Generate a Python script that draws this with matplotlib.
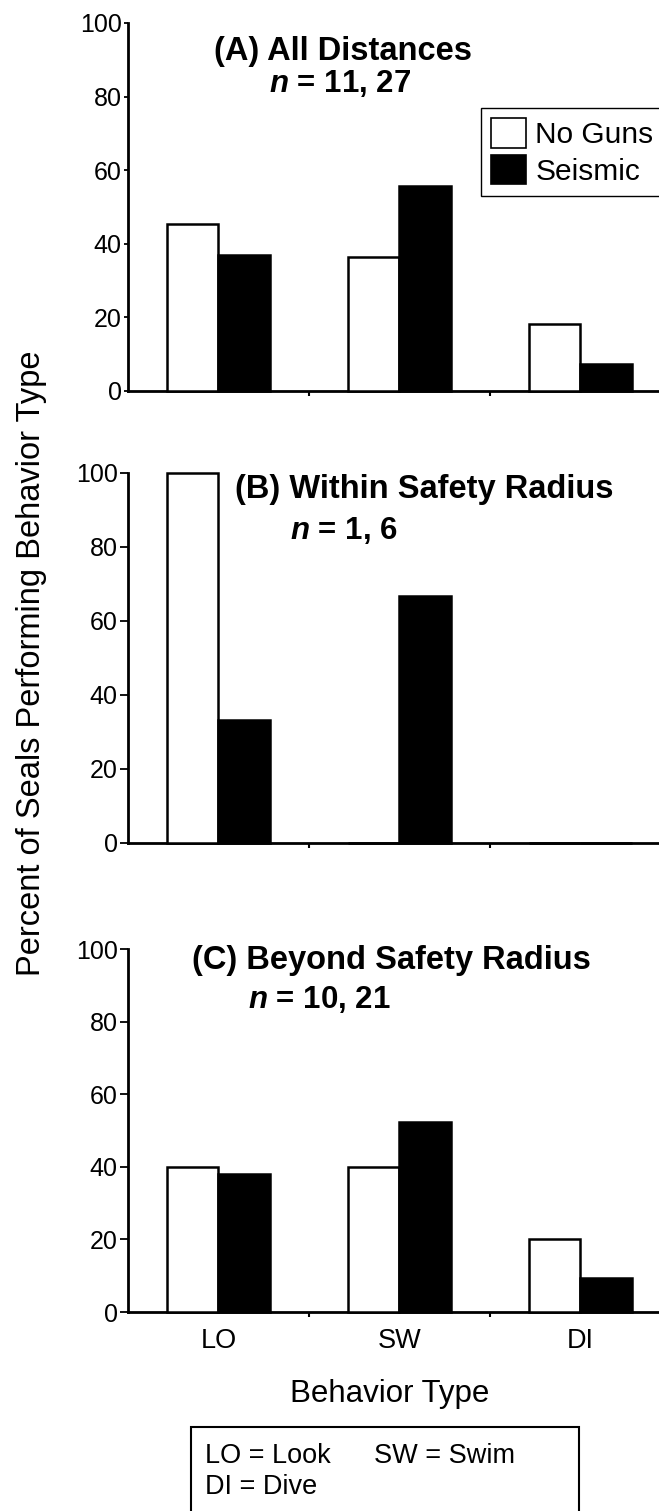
import numpy as np
import matplotlib
matplotlib.use('Agg')
import matplotlib.pyplot as plt
from matplotlib.patches import Patch, Rectangle

plt.rcParams['font.family'] = ['Liberation Sans', 'DejaVu Sans']
plt.rcParams['mathtext.fontset'] = 'custom'
plt.rcParams['mathtext.it'] = 'Liberation Sans:italic:bold'
plt.rcParams['mathtext.rm'] = 'Liberation Sans:bold'

behaviors = ['LO', 'SW', 'DI']
series_names = ['No Guns', 'Seismic']

panel_titles = ['(A) All Distances', '(B) Within Safety Radius', '(C) Beyond Safety Radius']
panel_n = ['11, 27', '1, 6', '10, 21']

no_guns_all = [45.5, 36.4, 18.2]
seismic_all = [37.0, 55.6, 7.4]
no_guns_within = [100.0, 0.0, 0.0]
seismic_within = [33.3, 66.7, 0.0]
no_guns_beyond = [40.0, 40.0, 20.0]
seismic_beyond = [38.1, 52.4, 9.5]

yticks = [0, 20, 40, 60, 80, 100]
legend_text = ['LO = Look', 'SW = Swim', 'DI = Dive']

W, H = 659, 1511
fig = plt.figure(figsize=(W / 100, H / 100), dpi=100)


def fx(px):
    return px / W


def fy(py):
    return (H - py) / H


# (top of 100, y of 0) in pixels for each panel
panel_px = [(23, 391), (473, 843), (949, 1312)]
title_pos = [(214, 60, 269, 92), (235, 498, 290, 539), (192, 969, 248, 1008)]
tick_len = [3.0, 6.0, 6.0]

data = [(no_guns_all, seismic_all),
        (no_guns_within, seismic_within),
        (no_guns_beyond, seismic_beyond)]

x = np.arange(len(behaviors))
bw = 0.283

for i, (ng, se) in enumerate(data):
    top, zero = panel_px[i]
    ax = fig.add_axes([fx(128), fy(zero), fx(W - 128), (zero - top) / H])
    ax.bar(x - bw / 2, ng, bw, color='white', edgecolor='black', linewidth=1.8, clip_on=False, zorder=3)
    ax.bar(x + bw / 2, se, bw, color='black', edgecolor='black', linewidth=1.8, clip_on=False, zorder=3)
    ax.set_xlim(-0.5, 2.434)
    ax.set_ylim(0, 100)
    for s in ['top', 'right']:
        ax.spines[s].set_visible(False)
    for s in ['left', 'bottom']:
        ax.spines[s].set_linewidth(2.0)
    ax.set_yticks(yticks)
    ax.tick_params(axis='y', direction='out', length=tick_len[i], width=1.3, pad=1.5, labelsize=18)
    ax.set_xticks(x)
    ax.set_xticks([0.5, 1.5], minor=True)
    ax.tick_params(axis='x', which='major', length=0, pad=11.5, labelsize=19.5)
    ax.tick_params(axis='x', which='minor', direction='out', length=3.8, width=1.5)
    if i == 2:
        ax.set_xticklabels(behaviors)
    else:
        ax.set_xticklabels([])

    tx, tby, nx, nby = title_pos[i]
    fig.text(fx(tx), fy(tby), panel_titles[i], fontsize=23.5, fontweight='bold',
             ha='left', va='baseline')
    fig.text(fx(nx), fy(nby), '$n$ = ' + panel_n[i], fontsize=22.5, fontweight='bold',
             ha='left', va='baseline')

    if i == 0:
        handles = [Patch(facecolor='white', edgecolor='black', linewidth=1.2),
                   Patch(facecolor='black', edgecolor='black', linewidth=1.2)]
        leg = ax.legend(handles, series_names, loc='upper left',
                        bbox_to_anchor=(fx(481), fy(108)), bbox_transform=fig.transFigure,
                        fontsize=21.5, frameon=True, fancybox=False, framealpha=1,
                        edgecolor='black', borderpad=0.35, borderaxespad=0,
                        handlelength=1.17, handleheight=1.12, handletextpad=0.3,
                        labelspacing=0.2)
        leg.get_frame().set_linewidth(1.0)

fig.text(fx(32), fy(663), 'Percent of Seals Performing Behavior Type', fontsize=23.5,
         rotation=90, ha='center', va='center')
fig.text(fx(390), fy(1402), 'Behavior Type', fontsize=22.5, ha='center', va='baseline')

# abbreviation key box
fig.patches.append(Rectangle((fx(191), fy(1520)), fx(579 - 191), (1520 - 1427) / H,
                             transform=fig.transFigure, facecolor='white',
                             edgecolor='black', linewidth=1.5))
fig.text(fx(205), fy(1463), legend_text[0], fontsize=19.5, ha='left', va='baseline')
fig.text(fx(374), fy(1463), legend_text[1], fontsize=19.5, ha='left', va='baseline')
fig.text(fx(205), fy(1494), legend_text[2], fontsize=19.5, ha='left', va='baseline')

fig.savefig('out.png', dpi=100)
